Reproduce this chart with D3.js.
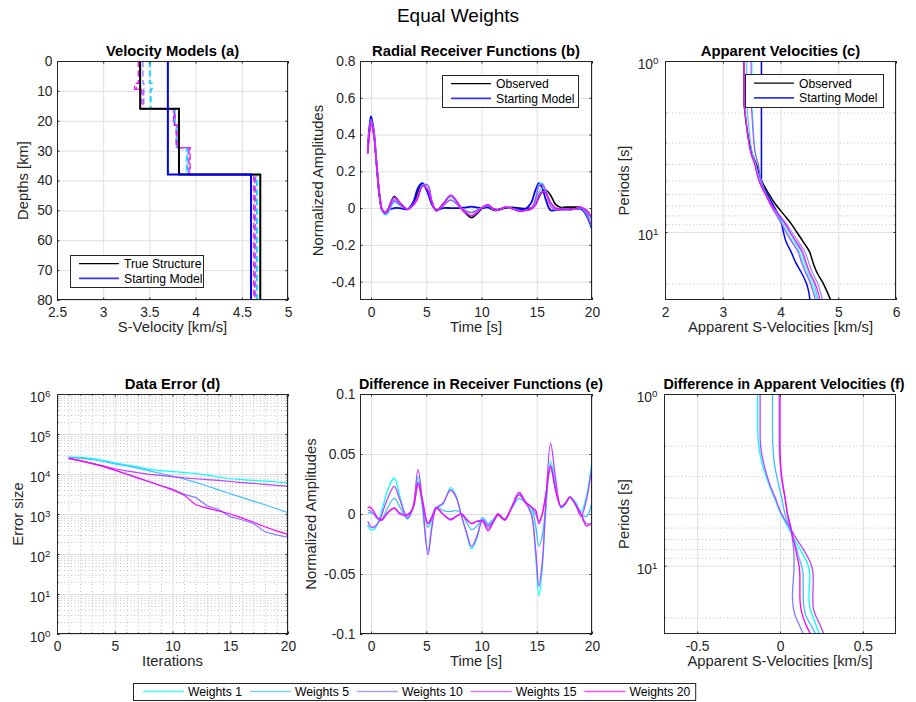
<!DOCTYPE html>
<html><head><meta charset="utf-8">
<script src="https://cdn.jsdelivr.net/npm/d3@7"></script>
<style>
body{margin:0;background:#fff;}
svg{font-family:"Liberation Sans",Arial,Helvetica,sans-serif;}
</style></head><body>
<svg id="chart" width="916" height="702"></svg>
<script>
// ---------------- DATA ----------------
const weightNames = ["Weights 1","Weights 5","Weights 10","Weights 15","Weights 20"];
const weightColors = ["#00ffff","#40bfff","#8080ff","#bf40ff","#ff00ff"];

// (a) velocity models
const trueDepths = [0,16,38,80];
const trueVs = [3.4,3.82,4.7];
const startDepths = [0,38,80];
const startVs = [3.7,4.6];
const invDepths = [0,7.5,9.5,16,21.5,29,38,80];
const invVsW1  = [3.51,3.53,3.52,3.78,3.80,3.90,4.67];
const invVsW5  = [3.50,3.52,3.51,3.77,3.79,3.91,4.66];
const invVsW10 = [3.43,3.44,3.44,3.78,3.81,3.92,4.65];
const invVsW15 = [3.39,3.36,3.43,3.76,3.80,3.93,4.64];
const invVsW20 = [3.38,3.34,3.41,3.77,3.79,3.94,4.63];

// (b) radial receiver functions
const rfTime = [-0.3,-0.15,0,0.25,0.5,0.75,1,1.25,1.5,2.1,2.6,3.3,3.8,4.25,4.65,5.15,5.5,5.9,6.5,7.2,7.7,8.2,8.6,9.1,9.6,10.1,10.6,11.1,11.5,12.1,12.7,13.4,14,14.5,14.9,15.2,15.5,15.8,16.25,16.7,17.2,17.6,18,18.5,19,19.5,20];
const rfObserved = [0.30,0.41,0.47,0.40,0.24,0.08,-0.01,-0.025,-0.01,0.063,0.03,-0.007,0.02,0.09,0.132,0.09,0.03,-0.01,0.02,0.065,0.04,-0.005,-0.03,-0.052,-0.03,0.0,0.005,-0.012,-0.012,0.0,0.004,0.0,-0.003,0.0,0.02,0.06,0.09,0.098,0.07,0.02,0.003,0.005,0.005,0.005,0.003,-0.02,-0.06];
const rfStarting = [0.32,0.44,0.50,0.42,0.24,0.07,-0.012,-0.026,-0.012,0.0,0.0,-0.006,0.03,0.11,0.135,0.08,0.02,-0.01,0.0,0.0,0.0,0.002,0.004,0.008,0.003,0.0,0.004,-0.006,-0.008,0.002,0.0,-0.005,-0.004,0.03,0.1,0.135,0.11,0.05,-0.012,-0.01,-0.008,-0.008,-0.006,-0.005,-0.005,-0.04,-0.115];
const rfW1  = [0.309,0.422,0.483,0.413,0.25,0.084,-0.014,-0.037,-0.03,0.033,0.015,-0.003,0.015,0.059,0.127,0.121,0.04,-0.015,0.012,0.043,0.025,-0.003,-0.015,-0.023,-0.01,0.004,0.014,-0.007,-0.011,0.005,-0.001,-0.017,-0.013,-0.002,0.055,0.128,0.135,0.098,0.026,-0.005,-0.002,-0.003,-0.009,-0.005,0.001,-0.035,-0.105];
const rfW5  = [0.299,0.409,0.469,0.40,0.243,0.085,-0.006,-0.025,-0.015,0.05,0.024,-0.003,0.015,0.063,0.124,0.101,0.035,-0.016,0.017,0.063,0.037,-0.005,-0.024,-0.039,-0.02,0.003,0.013,-0.008,-0.012,0.004,0.0,-0.013,-0.012,-0.006,0.03,0.087,0.108,0.093,0.029,-0.002,-0.003,-0.004,-0.009,-0.003,0.003,-0.018,-0.07];
const rfW10 = [0.297,0.407,0.468,0.40,0.243,0.085,-0.005,-0.023,-0.011,0.058,0.029,-0.007,0.015,0.066,0.122,0.098,0.032,-0.015,0.02,0.069,0.042,-0.005,-0.026,-0.044,-0.024,0.006,0.017,-0.006,-0.012,0.004,-0.001,-0.016,-0.012,-0.006,0.02,0.066,0.09,0.083,0.032,0.0,-0.003,-0.004,-0.009,-0.003,0.003,-0.012,-0.052];
const rfW15 = [0.306,0.419,0.481,0.411,0.249,0.086,-0.01,-0.032,-0.023,0.04,0.018,-0.004,0.014,0.053,0.122,0.124,0.042,-0.015,0.011,0.045,0.026,-0.003,-0.016,-0.025,-0.012,0.005,0.015,-0.006,-0.011,0.005,-0.001,-0.016,-0.012,0.0,0.05,0.12,0.13,0.093,0.011,-0.01,-0.003,-0.004,-0.009,-0.003,0.005,-0.032,-0.1];
const rfW20 = [0.295,0.404,0.465,0.398,0.242,0.084,-0.005,-0.023,-0.011,0.058,0.03,-0.006,0.015,0.064,0.12,0.098,0.033,-0.015,0.02,0.07,0.042,-0.005,-0.026,-0.044,-0.024,0.006,0.019,-0.006,-0.012,0.005,-0.001,-0.018,-0.013,-0.006,0.017,0.068,0.09,0.083,0.03,0.0,-0.003,-0.004,-0.009,-0.003,0.003,-0.01,-0.053];

// (e) differences in receiver functions
const rfDiffW1  = [-0.009,-0.012,-0.013,-0.013,-0.01,-0.004,0.004,0.012,0.02,0.030,0.015,-0.004,0.005,0.031,0.005,-0.031,-0.01,0.005,0.008,0.022,0.015,-0.002,-0.015,-0.029,-0.02,-0.004,-0.009,-0.005,-0.001,-0.005,0.005,0.017,0.01,0.002,-0.035,-0.068,-0.045,0.0,0.044,0.025,0.005,0.008,0.014,0.01,0.002,0.015,0.045];
const rfDiffW5  = [0.001,0.001,0.001,0.0,-0.003,-0.005,-0.004,0.0,0.005,0.013,0.006,-0.004,0.005,0.027,0.008,-0.011,-0.005,0.006,0.003,0.002,0.003,0.0,-0.006,-0.013,-0.01,-0.003,-0.008,-0.004,0.0,-0.004,0.004,0.013,0.009,0.006,-0.01,-0.027,-0.018,0.005,0.041,0.022,0.006,0.009,0.014,0.008,0.0,-0.002,0.01];
const rfDiffW10 = [0.003,0.003,0.002,0.0,-0.003,-0.005,-0.005,-0.002,0.001,0.005,0.001,0.0,0.005,0.024,0.01,-0.008,-0.002,0.005,0.0,-0.004,-0.002,0.0,-0.004,-0.008,-0.006,-0.006,-0.012,-0.006,0.0,-0.004,0.005,0.016,0.009,0.006,0.0,-0.006,0.0,0.015,0.038,0.02,0.006,0.009,0.014,0.008,0.0,-0.008,-0.008];
const rfDiffW15 = [-0.006,-0.009,-0.011,-0.011,-0.009,-0.006,0.0,0.007,0.013,0.023,0.012,-0.003,0.006,0.037,0.01,-0.034,-0.012,0.005,0.009,0.020,0.014,-0.002,-0.014,-0.027,-0.018,-0.005,-0.01,-0.006,-0.001,-0.005,0.005,0.016,0.009,0.0,-0.03,-0.06,-0.04,0.005,0.059,0.03,0.006,0.009,0.014,0.008,-0.002,0.012,0.04];
const rfDiffW20 = [0.005,0.006,0.005,0.002,-0.002,-0.004,-0.005,-0.002,0.001,0.005,0.0,-0.001,0.005,0.026,0.012,-0.008,-0.003,0.005,0.0,-0.005,-0.002,0.0,-0.004,-0.008,-0.006,-0.006,-0.014,-0.006,0.0,-0.005,0.005,0.018,0.01,0.006,0.003,-0.008,0.0,0.015,0.04,0.02,0.006,0.009,0.014,0.008,0.0,-0.01,-0.007];

// (c) apparent velocities
const avPeriod = [1,1.25,1.5,1.77,2,2.5,3,3.5,4,5,6,7,8,9,10,11.5,13,15,17.5,20,22.5,25];
const avObserved = [3.37,3.37,3.37,3.37,3.385,3.42,3.46,3.51,3.58,3.67,3.80,3.93,4.07,4.19,4.28,4.40,4.50,4.56,4.64,4.74,4.81,4.87];
const avStarting = [3.67,3.67,3.67,3.67,3.67,3.67,3.67,3.67,3.67,3.67,3.77,3.88,3.97,4.02,4.05,4.10,4.18,4.26,4.37,4.45,4.49,4.51];
const avW1  = [3.505,3.505,3.505,3.503,3.513,3.53,3.545,3.57,3.615,3.665,3.75,3.845,3.95,4.04,4.11,4.22,4.322,4.385,4.46,4.54,4.59,4.632];
const avW5  = [3.415,3.415,3.415,3.415,3.428,3.455,3.48,3.515,3.57,3.64,3.74,3.85,3.97,4.075,4.15,4.26,4.36,4.42,4.495,4.58,4.62,4.655];
const avW10 = [3.375,3.375,3.375,3.375,3.39,3.42,3.452,3.492,3.55,3.625,3.735,3.855,3.988,4.105,4.195,4.318,4.422,4.485,4.56,4.645,4.69,4.73];
const avW15 = [3.49,3.49,3.49,3.49,3.502,3.52,3.538,3.565,3.61,3.66,3.74,3.83,3.93,4.02,4.09,4.20,4.30,4.362,4.44,4.52,4.565,4.605];
const avW20 = [3.37,3.37,3.37,3.37,3.385,3.417,3.45,3.49,3.55,3.625,3.735,3.85,3.975,4.085,4.165,4.28,4.38,4.44,4.515,4.6,4.65,4.685];

// (f) differences in apparent velocities
const avDiffW1  = [-0.135,-0.135,-0.135,-0.133,-0.128,-0.11,-0.085,-0.06,-0.035,0.005,0.05,0.085,0.12,0.15,0.17,0.18,0.178,0.175,0.18,0.2,0.22,0.238];
const avDiffW5  = [-0.045,-0.045,-0.045,-0.045,-0.043,-0.035,-0.02,-0.005,0.01,0.03,0.06,0.08,0.1,0.115,0.13,0.14,0.14,0.14,0.145,0.16,0.19,0.215];
const avDiffW10 = [-0.005,-0.005,-0.005,-0.005,-0.005,0,0.008,0.018,0.03,0.045,0.065,0.075,0.082,0.085,0.085,0.082,0.078,0.075,0.08,0.095,0.12,0.14];
const avDiffW15 = [-0.12,-0.12,-0.12,-0.12,-0.117,-0.1,-0.078,-0.055,-0.03,0.01,0.06,0.1,0.14,0.17,0.19,0.2,0.2,0.198,0.2,0.22,0.245,0.265];
const avDiffW20 = [0,0,0,0,0,0.003,0.01,0.02,0.03,0.045,0.065,0.08,0.095,0.105,0.115,0.12,0.12,0.12,0.125,0.14,0.16,0.185];

// (d) data error
const iterations = [1,2,3,4,5,6,7,8,9,10,11,12,13,14,15,16,17,18,19,20];
const errW1  = [26500,26000,24500,22000,19000,17000,15000,13000,12200,11500,11000,10300,9400,8400,7600,7200,6900,6600,6300,6000];
const errW5  = [26000,25000,23000,20500,18000,16000,14000,12000,10300,8900,7500,6200,5000,4000,3200,2600,2100,1700,1350,1080];
const errW10 = [24500,21500,18500,15500,12500,10000,8000,6400,5100,4200,3100,2600,1600,1300,850,720,580,360,300,260];
const errW15 = [24500,21500,18500,16000,13500,12000,10800,9800,9200,8600,8000,7600,7200,6900,6500,6100,5800,5500,5200,5000];
const errW20 = [24500,21500,18500,15500,12500,10000,8000,6400,5100,4000,3000,1700,1400,1200,1000,800,620,480,380,310];

// ticks
const velTicks = [2.5,3,3.5,4,4.5,5];
const depthTicks = [0,10,20,30,40,50,60,70,80];
const timeTicks = [0,5,10,15,20];
const rfAmpTicks = [-0.4,-0.2,0,0.2,0.4,0.6,0.8];
const avTicks = [2,3,4,5,6];
const periodTicks = [1,10];
const periodMinor = [2,3,4,5,6,7,8,9,20];
const iterTicks = [0,5,10,15,20];
const iterMinor = [1,2,3,4,6,7,8,9,11,12,13,14,16,17,18,19];
const errTicks = [1,10,100,1000,10000,100000,1000000];
const diffRfTicks = [-0.1,-0.05,0,0.05,0.1];
const diffAvTicks = [-0.5,0,0.5];

// ---------------- DRAWING ----------------
const svg = d3.select('#chart');
const INK = '#262626';
const FT = 13.8, FL = 14.8, FLEG = 12.2;
const defs = svg.append('defs');
let clipN = 0;
const num = d => String(+d.toFixed(3));

function sup(sel){
  sel.each(function(d){
    const t = d3.select(this);
    const e = Math.round(Math.log10(d));
    t.text(null);
    t.append('tspan').text('10');
    t.append('tspan').attr('dy', -5).attr('font-size', 9.8).text(e);
  });
}

function panel(p){
  const [L,R] = p.x.range();
  const yr = p.y.range();
  const T = Math.min(yr[0],yr[1]), B = Math.max(yr[0],yr[1]);
  const W = R-L, H = B-T;
  const g = svg.append('g');
  g.append('rect').attr('x',L).attr('y',T).attr('width',W).attr('height',H).attr('fill','#fff');
  const gs = (s,c,dash) => { s.select('.domain').remove(); s.selectAll('.tick line').attr('stroke',c).attr('stroke-dasharray',dash); };
  if (p.xMinor) g.append('g').attr('transform',`translate(0,${B})`).call(d3.axisBottom(p.x).tickValues(p.xMinor).tickSize(-H).tickFormat('')).call(s=>gs(s,'#c2c2c2','1,2.5'));
  if (p.yMinor) g.append('g').attr('transform',`translate(${L},0)`).call(d3.axisLeft(p.y).tickValues(p.yMinor).tickSize(-W).tickFormat('')).call(s=>gs(s,'#c2c2c2','1,2.5'));
  g.append('g').attr('transform',`translate(0,${B})`).call(d3.axisBottom(p.x).tickValues(p.xTicks).tickSize(-H).tickFormat('')).call(s=>gs(s,'#dfdfdf',null));
  g.append('g').attr('transform',`translate(${L},0)`).call(d3.axisLeft(p.y).tickValues(p.yTicks).tickSize(-W).tickFormat('')).call(s=>gs(s,'#dfdfdf',null));
  const id = 'clip' + (++clipN);
  defs.append('clipPath').attr('id',id).append('rect').attr('x',L).attr('y',T).attr('width',W).attr('height',H);
  const data = svg.append('g').attr('clip-path',`url(#${id})`);
  return {L,R,T,B,W,H,data,x:p.x,y:p.y,finish:()=>finish(p,L,R,T,B,W,H)};
}

function finish(p,L,R,T,B,W,H){
  const g = svg.append('g');
  const st = s => { s.select('.domain').remove(); s.attr('font-family',null).attr('font-size',FT);
    s.selectAll('.tick line').attr('stroke',INK); s.selectAll('.tick text').attr('fill',INK); };
  const TL = 2.5, ML = 1.5;
  g.append('g').attr('transform',`translate(0,${B})`)
    .call(d3.axisBottom(p.x).tickValues(p.xTicks).tickSizeInner(-TL).tickSizeOuter(0).tickPadding(7.3).tickFormat(p.xFmt)).call(st);
  g.append('g').attr('transform',`translate(0,${T})`)
    .call(d3.axisTop(p.x).tickValues(p.xTicks).tickSizeInner(-TL).tickSizeOuter(0).tickFormat('')).call(st);
  const ly = g.append('g').attr('transform',`translate(${L},0)`)
    .call(d3.axisLeft(p.y).tickValues(p.yTicks).tickSizeInner(-TL).tickSizeOuter(0).tickPadding(p.yLog?6.5:4.5).tickFormat(p.yLog ? (d=>d) : p.yFmt)).call(st);
  if (p.yLog) ly.selectAll('.tick text').attr('dy','0.55em').call(sup);
  g.append('g').attr('transform',`translate(${R},0)`)
    .call(d3.axisRight(p.y).tickValues(p.yTicks).tickSizeInner(-TL).tickSizeOuter(0).tickFormat('')).call(st);
  if (p.yMinor) {
    g.append('g').attr('transform',`translate(${L},0)`).call(d3.axisLeft(p.y).tickValues(p.yMinor).tickSizeInner(-ML).tickSizeOuter(0).tickFormat('')).call(st);
    g.append('g').attr('transform',`translate(${R},0)`).call(d3.axisRight(p.y).tickValues(p.yMinor).tickSizeInner(-ML).tickSizeOuter(0).tickFormat('')).call(st);
  }
  if (p.xMinor) {
    g.append('g').attr('transform',`translate(0,${B})`).call(d3.axisBottom(p.x).tickValues(p.xMinor).tickSizeInner(-ML).tickSizeOuter(0).tickFormat('')).call(st);
    g.append('g').attr('transform',`translate(0,${T})`).call(d3.axisTop(p.x).tickValues(p.xMinor).tickSizeInner(-ML).tickSizeOuter(0).tickFormat('')).call(st);
  }
  g.append('rect').attr('x',L+0.5).attr('y',T+0.5).attr('width',W-1).attr('height',H-1)
    .attr('fill','none').attr('stroke',INK).attr('stroke-width',1);
  g.append('text').attr('x',(L+R)/2 + (p.titleDx||0)).attr('y',T-5).attr('text-anchor','middle')
    .attr('font-size',p.titleSize||FL).attr('font-weight','bold').attr('fill','#000').text(p.title);
  g.append('text').attr('x',(L+R)/2).attr('y',B+32).attr('text-anchor','middle')
    .attr('font-size',FL).attr('fill',INK).text(p.xLabel);
  g.append('text').attr('transform',`translate(${p.yLabelX},${(T+B)/2}) rotate(-90)`).attr('text-anchor','middle')
    .attr('font-size',FL).attr('fill',INK).text(p.yLabel);
}

function legendBox(x0,y0,w,h,items){
  const g = svg.append('g');
  g.append('rect').attr('x',x0+0.5).attr('y',y0+0.5).attr('width',w).attr('height',h)
    .attr('fill','#fff').attr('stroke',INK).attr('stroke-width',1);
  const cy = y0 + h/2;
  items.forEach((it,i)=>{
    const yy = cy + (i===0 ? -7.3 : 7.3);
    g.append('line').attr('x1',x0+9).attr('x2',x0+49).attr('y1',yy).attr('y2',yy)
      .attr('stroke',it.color).attr('stroke-width',it.width);
    g.append('text').attr('x',x0+54).attr('y',yy+4.3).attr('font-size',FLEG).attr('fill','#000').text(it.label);
  });
}

// overall title
svg.append('text').attr('x',458).attr('y',22).attr('text-anchor','middle')
  .attr('font-size',19).attr('fill','#000').text('Equal Weights');

// ---------- (a) ----------
const pa = panel({
  x: d3.scaleLinear().domain([2.5,5]).range([57,288]),
  y: d3.scaleLinear().domain([0,80]).range([61,300]),
  xTicks: velTicks, yTicks: depthTicks, xFmt: num, yFmt: num,
  title: 'Velocity Models (a)', xLabel: 'S-Velocity [km/s]', yLabel: 'Depths [km]', yLabelX: 27.5
});
function stepPts(depths, vs){ const pts=[]; vs.forEach((v,i)=>{ pts.push([v,depths[i]]); pts.push([v,depths[i+1]]); }); return pts; }
const lineA = d3.line().x(d=>pa.x(d[0])).y(d=>pa.y(d[1]));
[invVsW1,invVsW5,invVsW10,invVsW15,invVsW20].forEach((vs,i)=>{
  pa.data.append('path').attr('d',lineA(stepPts(invDepths,vs))).attr('fill','none')
    .attr('stroke',weightColors[i]).attr('stroke-width',1.3).attr('stroke-dasharray','6,3.5');
});
pa.data.append('path').attr('d',lineA(stepPts(trueDepths,trueVs))).attr('fill','none').attr('stroke','#000').attr('stroke-width',2);
pa.data.append('path').attr('d',lineA(stepPts(startDepths,startVs))).attr('fill','none').attr('stroke','#0000ff').attr('stroke-width',2);
pa.finish();
legendBox(70,255,133,32,[{label:'True Structure',color:'#000',width:1.2},{label:'Starting Model',color:'#3333ff',width:1.8}]);

// ---------- (b) ----------
const pb = panel({
  x: d3.scaleLinear().domain([-1,20]).range([360,592]),
  y: d3.scaleLinear().domain([-0.5,0.8]).range([300,61]),
  xTicks: timeTicks, yTicks: rfAmpTicks, xFmt: num, yFmt: num,
  title: 'Radial Receiver Functions (b)', xLabel: 'Time [s]', yLabel: 'Normalized Amplitudes', yLabelX: 323
});
const lineB = d3.line().x((d,i)=>pb.x(rfTime[i])).y(d=>pb.y(d)).curve(d3.curveCatmullRom.alpha(0.5));
pb.data.append('path').attr('d',lineB(rfObserved)).attr('fill','none').attr('stroke','#000').attr('stroke-width',1.6);
pb.data.append('path').attr('d',lineB(rfStarting)).attr('fill','none').attr('stroke','#0000ff').attr('stroke-width',1.8);
[rfW1,rfW5,rfW10,rfW15,rfW20].forEach((s,i)=>{
  pb.data.append('path').attr('d',lineB(s)).attr('fill','none').attr('stroke',weightColors[i]).attr('stroke-width',1.3);
});
pb.finish();
legendBox(442,75,136,32,[{label:'Observed',color:'#000',width:1.2},{label:'Starting Model',color:'#3333ff',width:1.8}]);

// ---------- (c) ----------
const pc = panel({
  x: d3.scaleLinear().domain([2,6]).range([665,896]),
  y: d3.scaleLog().domain([1,25]).range([61,300]),
  xTicks: avTicks, yTicks: periodTicks, yMinor: periodMinor, yLog: true, xFmt: num,
  title: 'Apparent Velocities (c)', xLabel: 'Apparent S-Velocities [km/s]', yLabel: 'Periods [s]', yLabelX: 629
});
const lineC = d3.line().x(d=>pc.x(d)).y((d,i)=>pc.y(avPeriod[i])).curve(d3.curveMonotoneY);
pc.data.append('path').attr('d',lineC(avObserved)).attr('fill','none').attr('stroke','#000').attr('stroke-width',1.5);
pc.data.append('path').attr('d',lineC(avStarting)).attr('fill','none').attr('stroke','#0000ff').attr('stroke-width',1.5);
[avW1,avW5,avW10,avW15,avW20].forEach((s,i)=>{
  pc.data.append('path').attr('d',lineC(s)).attr('fill','none').attr('stroke',weightColors[i]).attr('stroke-width',1.1);
});
pc.finish();
legendBox(745,74,138,33,[{label:'Observed',color:'#000',width:1.2},{label:'Starting Model',color:'#3333ff',width:1.8}]);

// ---------- (d) ----------
const pd = panel({
  x: d3.scaleLinear().domain([0,20]).range([57,288]),
  y: d3.scaleLog().domain([1,1e6]).range([634,394]),
  xTicks: iterTicks, yTicks: errTicks, xMinor: iterMinor,
  yMinor: errTicks.slice(0,-1).flatMap(b=>[2,3,4,5,6,7,8,9].map(m=>m*b)), yLog: true, xFmt: num,
  title: 'Data Error (d)', xLabel: 'Iterations', yLabel: 'Error size', yLabelX: 22.5
});
const lineD = d3.line().x((d,i)=>pd.x(iterations[i])).y(d=>pd.y(d));
[errW1,errW5,errW10,errW15,errW20].forEach((s,i)=>{
  pd.data.append('path').attr('d',lineD(s)).attr('fill','none').attr('stroke',weightColors[i]).attr('stroke-width',1.2);
});
pd.finish();

// ---------- (e) ----------
const pe = panel({
  x: d3.scaleLinear().domain([-1,20]).range([360,592]),
  y: d3.scaleLinear().domain([-0.1,0.1]).range([634,394]),
  xTicks: timeTicks, yTicks: diffRfTicks, xFmt: num, yFmt: num,
  title: 'Difference in Receiver Functions (e)', titleSize: 14.3, titleDx: 5,
  xLabel: 'Time [s]', yLabel: 'Normalized Amplitudes', yLabelX: 316
});
const lineE = d3.line().x((d,i)=>pe.x(rfTime[i])).y(d=>pe.y(d)).curve(d3.curveCatmullRom.alpha(0.5));
[rfDiffW1,rfDiffW5,rfDiffW10,rfDiffW15,rfDiffW20].forEach((s,i)=>{
  pe.data.append('path').attr('d',lineE(s)).attr('fill','none').attr('stroke',weightColors[i]).attr('stroke-width',1.3);
});
pe.finish();

// ---------- (f) ----------
const pf = panel({
  x: d3.scaleLinear().domain([-0.7,0.7]).range([664,896]),
  y: d3.scaleLog().domain([1,25]).range([394,634]),
  xTicks: diffAvTicks, yTicks: periodTicks, yMinor: periodMinor, yLog: true, xFmt: num,
  title: 'Difference in Apparent Velocities (f)', titleSize: 14.3, titleDx: 4,
  xLabel: 'Apparent S-Velocities [km/s]', yLabel: 'Periods [s]', yLabelX: 629
});
const lineF = d3.line().x(d=>pf.x(d)).y((d,i)=>pf.y(avPeriod[i])).curve(d3.curveMonotoneY);
[avDiffW1,avDiffW5,avDiffW10,avDiffW15,avDiffW20].forEach((s,i)=>{
  pf.data.append('path').attr('d',lineF(s)).attr('fill','none').attr('stroke',weightColors[i]).attr('stroke-width',1.3);
});
pf.finish();

// ---------- bottom legend ----------
const lg = svg.append('g');
const lgRect = lg.append('rect');
let lx = 143; const lyc = 691.5;
weightNames.forEach((name,i)=>{
  lg.append('line').attr('x1',lx).attr('x2',lx+41).attr('y1',lyc).attr('y2',lyc)
    .attr('stroke',weightColors[i]).attr('stroke-width',1.5).attr('stroke-opacity',0.7);
  const t = lg.append('text').attr('x',lx+45).attr('y',lyc+4.3).attr('font-size',FLEG).attr('fill','#000').text(name);
  lx += 45 + t.node().getComputedTextLength() + 8;
});
lgRect.attr('x',133.5).attr('y',683.5).attr('width',lx-8+5-133).attr('height',17)
  .attr('fill','#fff').attr('stroke',INK).attr('stroke-width',1);
</script></body></html>
